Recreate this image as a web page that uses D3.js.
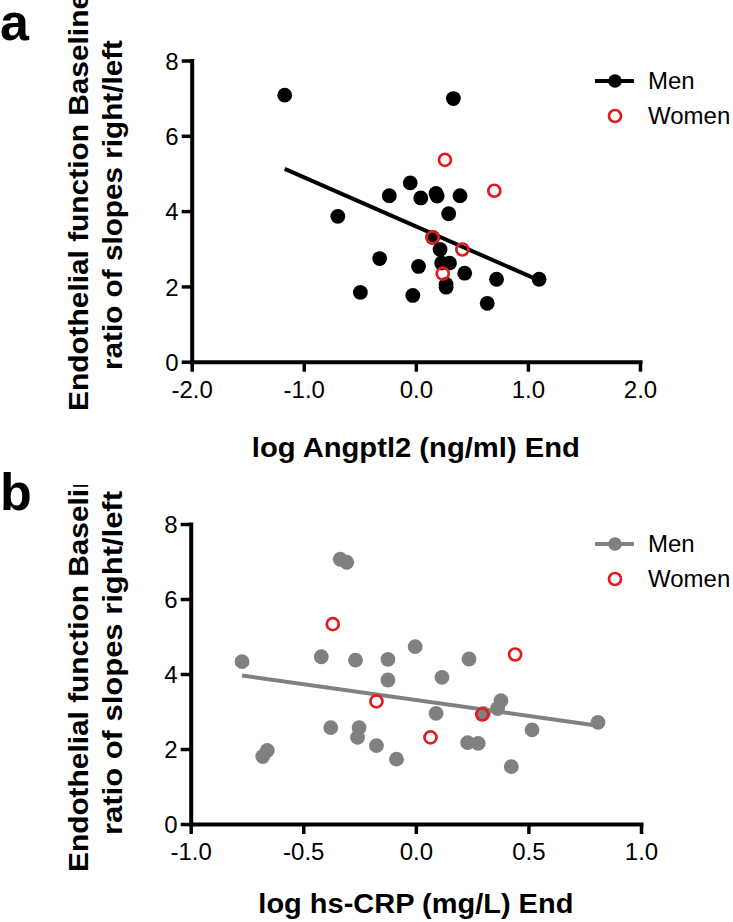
<!DOCTYPE html>
<html><head><meta charset="utf-8">
<script src="https://cdn.jsdelivr.net/npm/d3@7"></script>
<style>
html,body{margin:0;padding:0;background:#fff;}
svg{display:block;font-family:"Liberation Sans",Arial,Helvetica,sans-serif;}
</style></head>
<body>
<svg id="chart" width="733" height="922"></svg>
<script>
// ---------- data ----------
const legendLabels = ["Men", "Women"];
const yTicks = [0, 2, 4, 6, 8];
const xTicksA = [-2, -1, 0, 1, 2];
const xTicksB = [-1, -0.5, 0, 0.5, 1];
const yLabelLines = ["Endothelial function Baseline", "ratio of slopes right/left"];
const xLabelA = "log Angptl2 (ng/ml) End";
const xLabelB = "log hs-CRP (mg/L) End";

const menA = [[-1.17,7.08],[0.335,6.99],[-0.696,3.86],[-0.05,4.75],[-0.237,4.41],[0.044,4.35],
  [0.18,4.47],[0.19,4.40],[0.394,4.41],[0.293,3.93],[-0.323,2.74],[0.024,2.53],[0.15,3.30],
  [0.216,2.98],[0.23,2.62],[0.30,2.62],[0.27,2.05],[0.27,1.98],[0.436,2.35],[0.72,2.19],
  [1.10,2.19],[-0.495,1.84],[-0.027,1.76],[0.637,1.55]];
const womenA = [[0.26,5.36],[0.70,4.54],[0.15,3.30],[0.415,2.98],[0.24,2.34]];
const fitA = [[-1.17,5.12],[1.10,2.16]];

const menB = [[-0.772,4.33],[-0.68,1.80],[-0.66,1.96],[-0.336,7.06],[-0.307,6.98],[-0.42,4.46],
  [-0.378,2.57],[-0.268,4.37],[-0.252,2.57],[-0.259,2.31],[-0.175,2.09],[-0.124,4.39],
  [-0.124,3.84],[-0.086,1.73],[-0.003,4.73],[0.116,3.91],[0.09,2.95],[0.236,4.40],
  [0.23,2.17],[0.277,2.15],[0.30,2.95],[0.363,3.08],[0.378,3.29],[0.424,1.53],[0.516,2.51],[0.809,2.71]];
const womenB = [[-0.369,5.33],[-0.175,3.27],[0.065,2.31],[0.295,2.92],[0.441,4.52]];
const fitB = [[-0.772,3.96],[0.809,2.62]];

// ---------- drawing ----------
const svg = d3.select("#chart");
const RED = "#e41a1c";
const fmt1 = d => d3.format(".1f")(d).replace("\u2212", "-");

function panel(cfg) {
  const g = svg.append("g");
  const x = d3.scaleLinear().domain(cfg.xDomain).range([cfg.left, cfg.right]);
  const y = d3.scaleLinear().domain([0, 8]).range([cfg.bottom, cfg.top]);

  const clipId = "clip" + cfg.name;
  svg.append("clipPath").attr("id", clipId)
    .append("rect").attr("x", 0).attr("y", cfg.clipTop).attr("width", 733).attr("height", cfg.clipBottom - cfg.clipTop);

  // panel letter
  g.append("text").attr("x", 0).attr("y", cfg.letterY)
    .attr("font-size", 52).attr("font-weight", "bold").text(cfg.name);

  // axes
  const ax = g.append("g").attr("transform", `translate(0,${cfg.bottom})`)
    .call(d3.axisBottom(x).tickValues(cfg.xTicks).tickFormat(fmt1).tickSize(10).tickSizeOuter(0).tickPadding(9));
  const ay = g.append("g").attr("transform", `translate(${cfg.left},0)`)
    .call(d3.axisLeft(y).tickValues(yTicks).tickFormat(d3.format("d")).tickSize(10).tickSizeOuter(0).tickPadding(3));
  [ax, ay].forEach(a => {
    a.select(".domain").attr("stroke", "#000").attr("stroke-width", 4).attr("stroke-linecap", "square");
    a.selectAll(".tick line").attr("stroke", "#000").attr("stroke-width", 3.5);
    a.selectAll(".tick text").attr("font-size", 24).attr("fill", "#000")
      .attr("font-family", "'Liberation Sans',Arial,sans-serif");
  });
  ay.selectAll(".tick text").attr("dy", "0.36em");
  ax.selectAll(".tick text").attr("dy", "0.72em");

  // axis titles
  g.append("text").attr("x", (cfg.left + cfg.right) / 2).attr("y", cfg.xLabelY)
    .attr("text-anchor", "middle").attr("font-size", 27).attr("font-weight", "bold")
    .attr("textLength", cfg.xLabelLen).attr("lengthAdjust", "spacingAndGlyphs")
    .text(cfg.xLabel);
  // first title line is cut at the panel's top edge, as in the source figure
  g.append("g").attr("clip-path", `url(#${clipId})`)
    .append("text").attr("transform", `translate(88,${cfg.yl1Start}) rotate(-90)`)
    .attr("text-anchor", "start").attr("font-size", 28).attr("font-weight", "bold")
    .attr("textLength", 418).attr("lengthAdjust", "spacingAndGlyphs")
    .text(yLabelLines[0]);
  g.append("text").attr("transform", `translate(122,${cfg.yl2Center}) rotate(-90)`)
    .attr("text-anchor", "middle").attr("font-size", 28).attr("font-weight", "bold")
    .attr("textLength", cfg.yl2Len).attr("lengthAdjust", "spacingAndGlyphs")
    .text(yLabelLines[1]);

  // regression line
  g.append("path").datum(cfg.fit)
    .attr("d", d3.line().x(d => x(d[0])).y(d => y(d[1])))
    .attr("stroke", cfg.color).attr("stroke-width", 4).attr("fill", "none");

  // men (filled)
  g.selectAll(".men").data(cfg.men).join("circle").attr("class", "men")
    .attr("cx", d => x(d[0])).attr("cy", d => y(d[1])).attr("r", 7.4)
    .attr("fill", cfg.color);
  // women (open red)
  g.selectAll(".women").data(cfg.women).join("circle").attr("class", "women")
    .attr("cx", d => x(d[0])).attr("cy", d => y(d[1])).attr("r", 6)
    .attr("fill", "none").attr("stroke", RED).attr("stroke-width", 2.7);

  // legend
  const lg = g.append("g");
  lg.append("line").attr("x1", 595).attr("x2", 634).attr("y1", cfg.legY).attr("y2", cfg.legY)
    .attr("stroke", cfg.color).attr("stroke-width", 4);
  lg.append("circle").attr("cx", 615).attr("cy", cfg.legY).attr("r", 6.8).attr("fill", cfg.color);
  lg.append("circle").attr("cx", 615).attr("cy", cfg.legY + 35).attr("r", 6)
    .attr("fill", "none").attr("stroke", RED).attr("stroke-width", 2.7);
  legendLabels.forEach((t, i) => {
    lg.append("text").attr("x", 648).attr("y", cfg.legY + 8 + i * 35)
      .attr("font-size", 24).text(t);
  });
}

panel({
  name: "a", xDomain: [-2, 2], xTicks: xTicksA, left: 191.7, right: 640, top: 60.5, bottom: 361.7,
  clipTop: 0, clipBottom: 480, letterY: 40,
  xLabel: xLabelA, xLabelY: 457, xLabelLen: 328,
  yl1Start: 411, yl2Center: 205, yl2Len: 330,
  fit: fitA, men: menA, women: womenA, color: "#000", legY: 81
});
panel({
  name: "b", xDomain: [-1, 1], xTicks: xTicksB, left: 190.7, right: 641, top: 524, bottom: 824,
  clipTop: 485, clipBottom: 922, letterY: 510,
  xLabel: xLabelB, xLabelY: 913, xLabelLen: 315,
  yl1Start: 872, yl2Center: 663, yl2Len: 344,
  fit: fitB, men: menB, women: womenB, color: "#808080", legY: 544
});
</script>
</body></html>
